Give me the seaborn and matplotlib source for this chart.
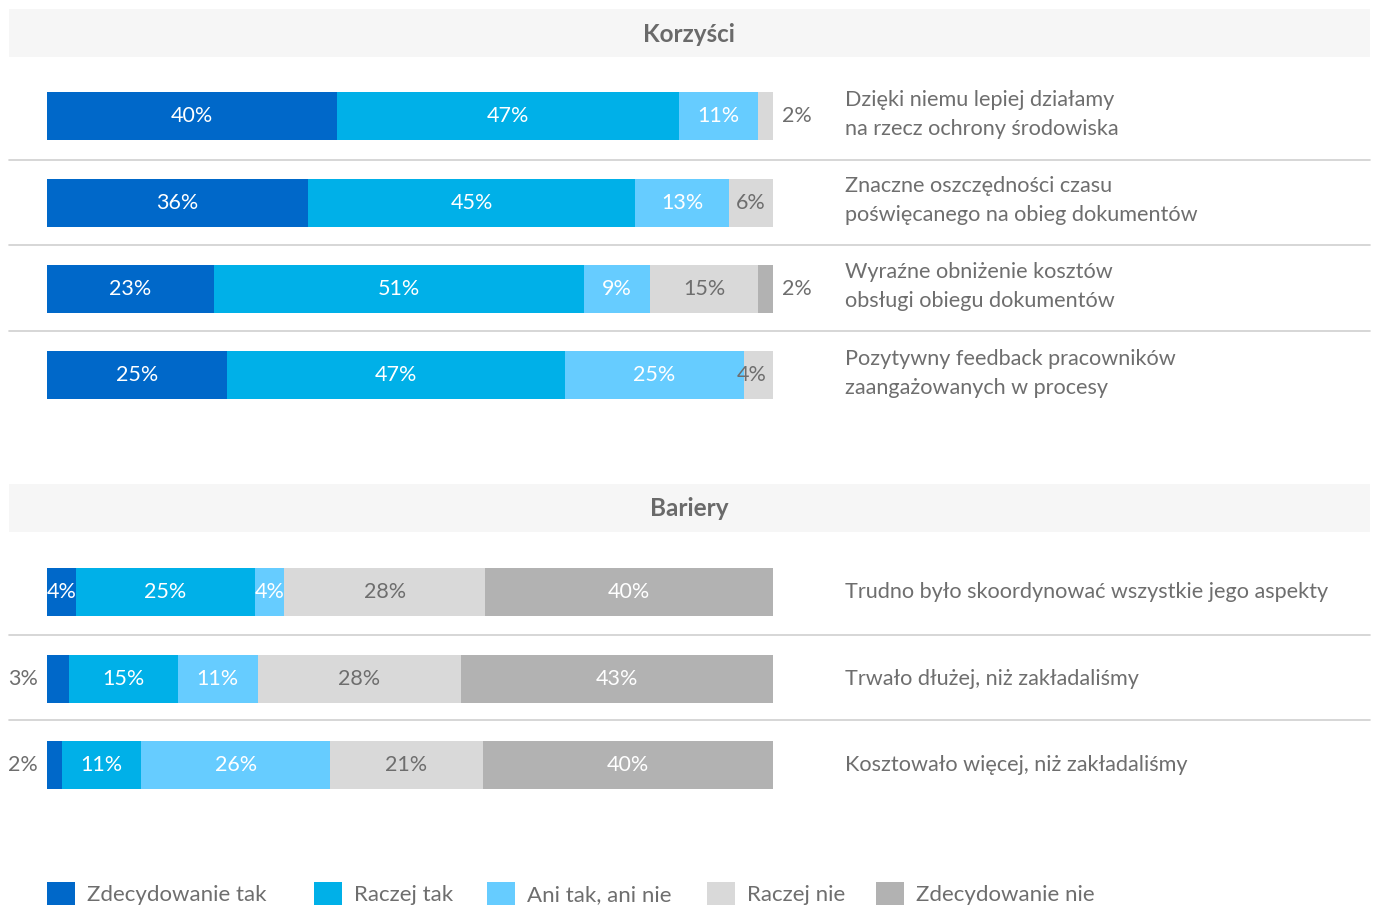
import numpy as np
import pandas as pd
import seaborn as sns
import matplotlib
matplotlib.use("Agg")
import matplotlib.pyplot as plt
from matplotlib.patches import Rectangle
from matplotlib.lines import Line2D
from matplotlib.transforms import blended_transform_factory

# ---- data -------------------------------------------------------------
answers = ["Zdecydowanie tak", "Raczej tak", "Ani tak, ani nie",
           "Raczej nie", "Zdecydowanie nie"]
colors = ["#0068C9", "#00B0E8", "#66CCFF", "#D9D9D9", "#B2B2B2"]

benefit_items = [
    "Dzięki niemu lepiej działamy\nna rzecz ochrony środowiska",
    "Znaczne oszczędności czasu\npoświęcanego na obieg dokumentów",
    "Wyraźne obniżenie kosztów\nobsługi obiegu dokumentów",
    "Pozytywny feedback pracowników\nzaangażowanych w procesy",
]
benefit_yes = [40, 36, 23, 25]
benefit_rather_yes = [47, 45, 51, 47]
benefit_neutral = [11, 13, 9, 25]
benefit_rather_no = [2, 6, 15, 4]
benefit_no = [0, 0, 2, 0]

barrier_items = [
    "Trudno było skoordynować wszystkie jego aspekty",
    "Trwało dłużej, niż zakładaliśmy",
    "Kosztowało więcej, niż zakładaliśmy",
]
barrier_yes = [4, 3, 2]
barrier_rather_yes = [25, 15, 11]
barrier_neutral = [4, 11, 26]
barrier_rather_no = [28, 28, 21]
barrier_no = [40, 43, 40]

# ---- style ------------------------------------------------------------
sns.set_theme(style="white")
plt.rcParams["font.family"] = ["Lato", "DejaVu Sans"]
TEXT = "#6E6E6E"
PCT_SIZE = 15.5
W, H = 1375, 905

fig = plt.figure(figsize=(W / 100, H / 100), dpi=100)


def fx(x):
    return x / W


def fy(y):
    return 1 - y / H


def band(y0, y1, title):
    fig.add_artist(Rectangle((fx(9), fy(y1)), fx(1370) - fx(9), fy(y0) - fy(y1),
                             transform=fig.transFigure, color="#F6F6F6", lw=0, zorder=0))
    fig.text(fx(689), fy((y0 + y1) / 2 + 1), title, ha="center", va="center",
             fontsize=17.5, fontweight="bold", color="#6A6A6A")


def separator(y):
    fig.add_artist(Line2D([fx(9), fx(1370)], [fy(y), fy(y)], transform=fig.transFigure,
                          color="#CFCFCF", lw=1.2))


def stacked(items, series, top, pitch):
    n = len(items)
    ax = fig.add_axes([fx(47), fy(top + n * pitch), fx(773) - fx(47), n * pitch / H])
    vals = np.array(series, dtype=float).T          # rows x answers
    shares = vals / vals.sum(axis=1, keepdims=True) * 100
    cum = np.cumsum(shares, axis=1)
    df = pd.DataFrame(cum, columns=answers)
    df["item"] = items
    for j in range(len(answers) - 1, -1, -1):
        sns.barplot(data=df, x=answers[j], y="item", orient="h", color=colors[j],
                    saturation=1, width=48 / pitch, linewidth=0, errorbar=None, ax=ax)
    ax.set_xlim(0, 100)
    ax.axis("off")

    px = 100 / (773 - 47)  # data units per pixel
    trans = blended_transform_factory(fig.transFigure, ax.transData)
    for i in range(n):
        for j in range(len(answers)):
            v = vals[i, j]
            if v == 0:
                continue
            start = cum[i, j] - shares[i, j]
            end = cum[i, j]
            lab = f"{int(v)}%"
            col = TEXT if j == 3 else "white"
            last = end > 99.9
            if last and v <= 2:
                ax.text(end + 9 * px, i, lab, ha="left", va="center",
                        fontsize=PCT_SIZE, color=TEXT)
            elif j == 0 and v <= 3:
                ax.text(start - 9 * px, i, lab, ha="right", va="center",
                        fontsize=PCT_SIZE, color=TEXT)
            elif last and v <= 4:
                ax.text(end - 6 * px, i, lab, ha="right", va="center",
                        fontsize=PCT_SIZE, color=TEXT)
            else:
                ax.text((start + end) / 2, i, lab, ha="center", va="center",
                        fontsize=PCT_SIZE, color=col)
        two_lines = "\n" in items[i]
        ax.text(fx(845), i - (0.025 if two_lines else 0.0), items[i], transform=trans,
                ha="left", va="center", fontsize=15.6, color=TEXT, linespacing=1.55)
    return ax


band(9, 57, "Korzyści")
stacked(benefit_items,
        [benefit_yes, benefit_rather_yes, benefit_neutral, benefit_rather_no, benefit_no],
        top=73.3, pitch=86.3)
for y in (160, 245, 331):
    separator(y)

band(484, 532, "Bariery")
stacked(barrier_items,
        [barrier_yes, barrier_rather_yes, barrier_neutral, barrier_rather_no, barrier_no],
        top=548.75, pitch=86.5)
for y in (635, 720):
    separator(y)

# legend along the bottom edge
legend_x = [47, 314, 487, 707, 876]
for x, name, c in zip(legend_x, answers, colors):
    fig.add_artist(Rectangle((fx(x), fy(905)), fx(28), fy(882) - fy(905),
                             transform=fig.transFigure, color=c, lw=0))
    fig.text(fx(x + 40), fy(895), name, ha="left", va="center",
             fontsize=16, color=TEXT)

fig.savefig("out.png", dpi=100, facecolor="white")
